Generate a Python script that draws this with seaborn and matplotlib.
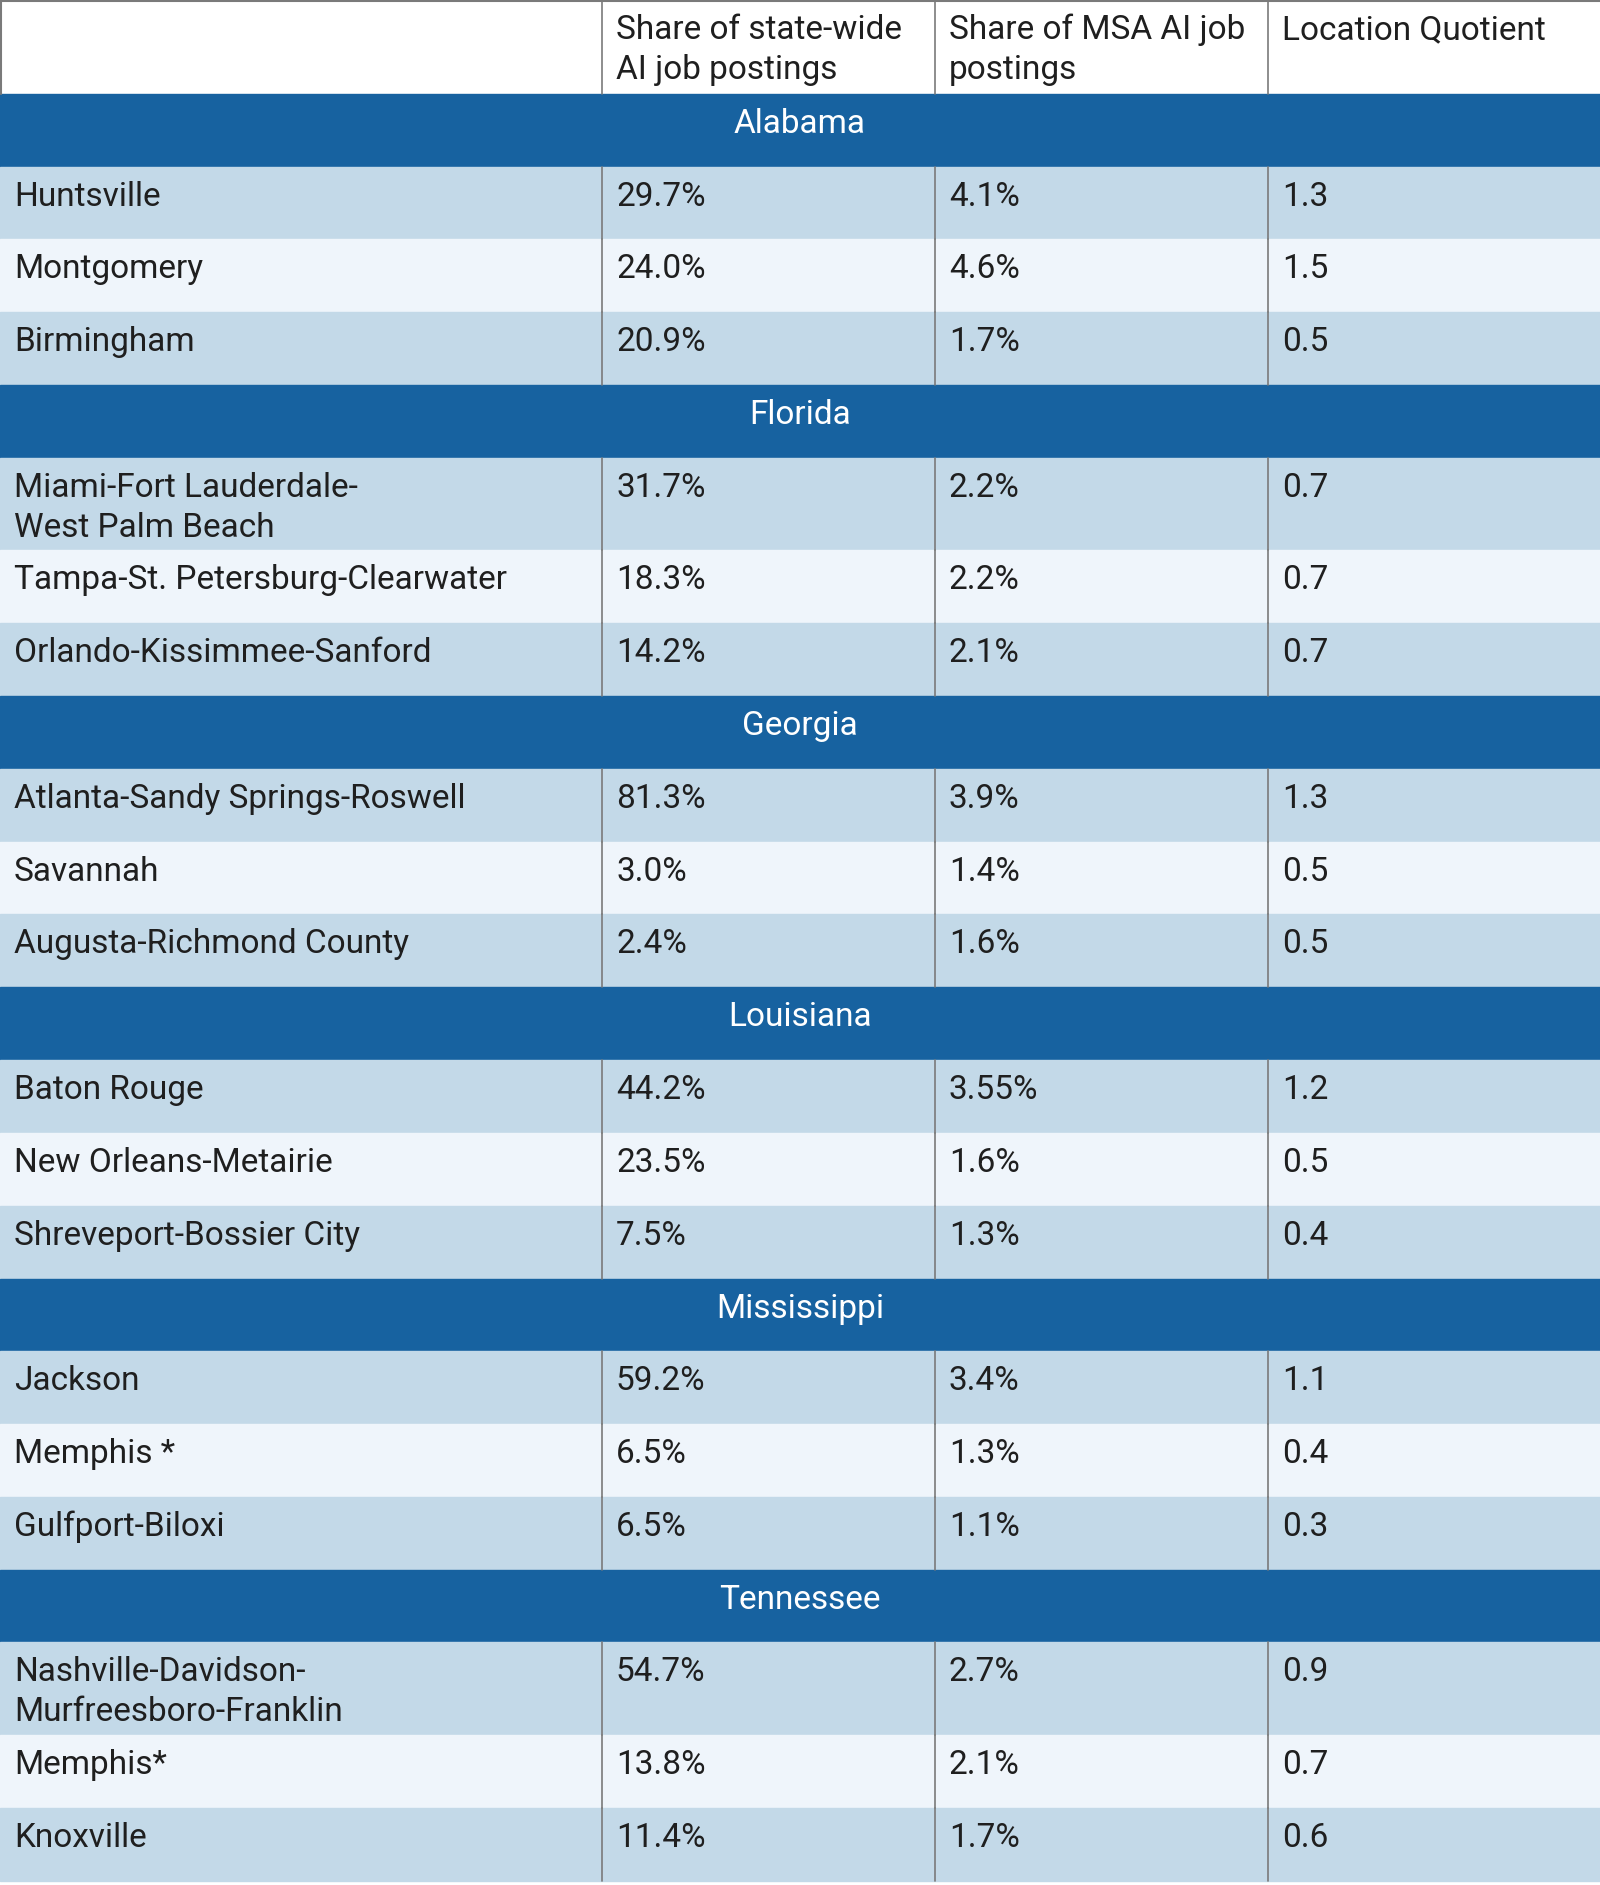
import matplotlib
matplotlib.use("Agg")
import matplotlib.pyplot as plt
from matplotlib.patches import Rectangle
import seaborn as sns

# -----------------------------------
# DATA
# -----------------------------------
headers = ["", "Share of state-wide\nAI job postings", "Share of MSA AI job\npostings", "Location Quotient"]
states = ["Alabama", "Florida", "Georgia", "Louisiana", "Mississippi", "Tennessee"]
metros = [
    ["Huntsville", "Montgomery", "Birmingham"],
    ["Miami-Fort Lauderdale-\nWest Palm Beach", "Tampa-St. Petersburg-Clearwater", "Orlando-Kissimmee-Sanford"],
    ["Atlanta-Sandy Springs-Roswell", "Savannah", "Augusta-Richmond County"],
    ["Baton Rouge", "New Orleans-Metairie", "Shreveport-Bossier City"],
    ["Jackson", "Memphis *", "Gulfport-Biloxi"],
    ["Nashville-Davidson-\nMurfreesboro-Franklin", "Memphis*", "Knoxville"],
]
state_share = [
    ["29.7%", "24.0%", "20.9%"],
    ["31.7%", "18.3%", "14.2%"],
    ["81.3%", "3.0%", "2.4%"],
    ["44.2%", "23.5%", "7.5%"],
    ["59.2%", "6.5%", "6.5%"],
    ["54.7%", "13.8%", "11.4%"],
]
msa_share = [
    ["4.1%", "4.6%", "1.7%"],
    ["2.2%", "2.2%", "2.1%"],
    ["3.9%", "1.4%", "1.6%"],
    ["3.55%", "1.6%", "1.3%"],
    ["3.4%", "1.3%", "1.1%"],
    ["2.7%", "2.1%", "1.7%"],
]
loc_quotient = [
    ["1.3", "1.5", "0.5"],
    ["0.7", "0.7", "0.7"],
    ["1.3", "0.5", "0.5"],
    ["1.2", "0.5", "0.4"],
    ["1.1", "0.4", "0.3"],
    ["0.9", "0.7", "0.6"],
]

# -----------------------------------
# STYLE
# -----------------------------------
sns.set_theme(style="white")
plt.rcParams["font.family"] = ["Roboto", "DejaVu Sans"]

W, H = 1600, 1885
col_x = [0, 602, 935, 1268, 1600]
header_h = 94
section_h = 72.5
row_h = 72.9
line_gap = 40
pad_top = 30
pad_left = 14
fs = 24

dark_blue = "#1762a0"
light_blue = "#c3d9e8"
pale_blue = "#eff5fb"
grid_gray = "#7a7a7a"
text_color = "#1f1f1f"

fig = plt.figure(figsize=(16, 18.85), dpi=100)
ax = fig.add_axes([0, 0, 1, 1])
ax.set_xlim(0, W)
ax.set_ylim(H, 0)
ax.axis("off")


def put_lines(x, top, text, **kw):
    for i, line in enumerate(text.split("\n")):
        ax.text(x, top + pad_top + i * line_gap, line, va="center",
                fontsize=fs, **kw)


# header
ax.add_patch(Rectangle((0, 0), W, header_h, color="white", zorder=0))
for c, label in enumerate(headers):
    put_lines(col_x[c] + pad_left, 0, label, color=text_color)
ax.plot([0, W], [1, 1], color=grid_gray, lw=1.5)
ax.plot([1, 1], [0, header_h], color=grid_gray, lw=1.5)
for x in col_x[1:-1]:
    ax.plot([x, x], [0, header_h], color=grid_gray, lw=1.2)

y = header_h
for s, state in enumerate(states):
    ax.add_patch(Rectangle((0, y), W, section_h, color=dark_blue, zorder=0))
    put_lines(W / 2, y, state, color="white", ha="center")
    y += section_h
    for r in range(len(metros[s])):
        name = metros[s][r]
        h = row_h + (name.count("\n")) * 19.7
        fill = pale_blue if r % 2 == 1 else light_blue
        ax.add_patch(Rectangle((0, y), W, h, color=fill, zorder=0))
        cells = [name, state_share[s][r], msa_share[s][r], loc_quotient[s][r]]
        for c, val in enumerate(cells):
            put_lines(col_x[c] + pad_left, y, val, color=text_color)
        for x in col_x[1:-1]:
            ax.plot([x, x], [y, y + h], color=grid_gray, lw=1.2)
        y += h

fig.savefig("out.png", dpi=100)
